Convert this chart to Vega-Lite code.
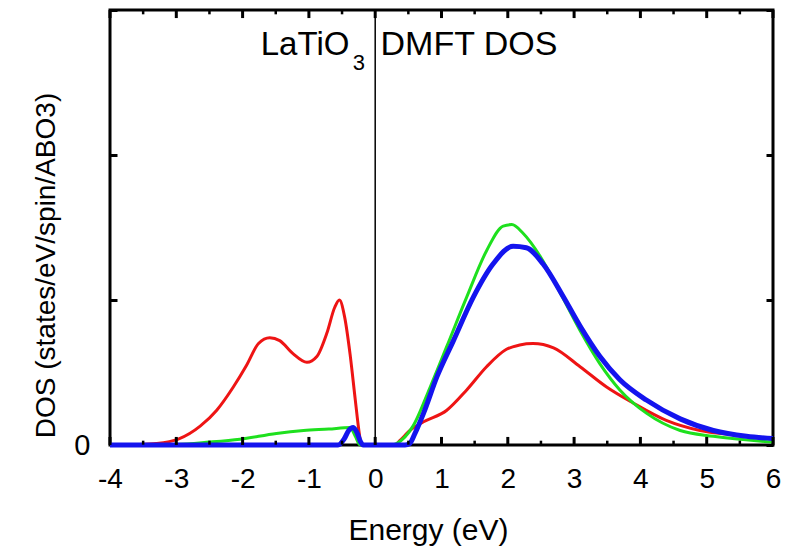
{
  "$schema": "https://vega.github.io/schema/vega-lite/v6.json",
  "width": 663,
  "height": 435,
  "autosize": {"type": "none"},
  "padding": {"left": 110, "top": 10, "right": 15, "bottom": 105},
  "background": "white",
  "config": {
    "view": {"stroke": "black", "strokeWidth": 3},
    "axis": {
      "domain": false,
      "grid": false,
      "zindex": 1,
      "tickColor": "black",
      "labelColor": "black",
      "titleColor": "black",
      "labelFont": "Liberation Sans",
      "titleFont": "Liberation Sans",
      "titleFontWeight": "normal"
    }
  },
  "datasets": {
    "xticks": [
      {"E": -4, "kind": "major"}, {"E": -3, "kind": "major"}, {"E": -2, "kind": "major"},
      {"E": -1, "kind": "major"}, {"E": 0, "kind": "major"}, {"E": 1, "kind": "major"},
      {"E": 2, "kind": "major"}, {"E": 3, "kind": "major"}, {"E": 4, "kind": "major"},
      {"E": 5, "kind": "major"}, {"E": 6, "kind": "major"},
      {"E": -3.5, "kind": "minor"}, {"E": -2.5, "kind": "minor"}, {"E": -1.5, "kind": "minor"},
      {"E": -0.5, "kind": "minor"}, {"E": 0.5, "kind": "minor"}, {"E": 1.5, "kind": "minor"},
      {"E": 2.5, "kind": "minor"}, {"E": 3.5, "kind": "minor"}, {"E": 4.5, "kind": "minor"},
      {"E": 5.5, "kind": "minor"}
    ],
    "dos": [
      {"orbital": "1", "E": -4.0, "dos": 0.0},
      {"orbital": "1", "E": -3.6, "dos": 0.003},
      {"orbital": "1", "E": -3.3, "dos": 0.01},
      {"orbital": "1", "E": -2.97, "dos": 0.04},
      {"orbital": "1", "E": -2.64, "dos": 0.13},
      {"orbital": "1", "E": -2.39, "dos": 0.24},
      {"orbital": "1", "E": -2.14, "dos": 0.4},
      {"orbital": "1", "E": -1.94, "dos": 0.55},
      {"orbital": "1", "E": -1.76, "dos": 0.7},
      {"orbital": "1", "E": -1.59, "dos": 0.74},
      {"orbital": "1", "E": -1.44, "dos": 0.72},
      {"orbital": "1", "E": -1.24, "dos": 0.63},
      {"orbital": "1", "E": -1.03, "dos": 0.57},
      {"orbital": "1", "E": -0.88, "dos": 0.61},
      {"orbital": "1", "E": -0.73, "dos": 0.77},
      {"orbital": "1", "E": -0.61, "dos": 0.95},
      {"orbital": "1", "E": -0.54, "dos": 1.0},
      {"orbital": "1", "E": -0.46, "dos": 0.88},
      {"orbital": "1", "E": -0.38, "dos": 0.63},
      {"orbital": "1", "E": -0.3, "dos": 0.31},
      {"orbital": "1", "E": -0.24, "dos": 0.08},
      {"orbital": "1", "E": -0.21, "dos": 0.0},
      {"orbital": "1", "E": 0.3, "dos": 0.0},
      {"orbital": "1", "E": 0.37, "dos": 0.03},
      {"orbital": "1", "E": 0.55, "dos": 0.11},
      {"orbital": "1", "E": 0.73, "dos": 0.16},
      {"orbital": "1", "E": 1.08, "dos": 0.24},
      {"orbital": "1", "E": 1.38, "dos": 0.38},
      {"orbital": "1", "E": 1.68, "dos": 0.54},
      {"orbital": "1", "E": 1.98, "dos": 0.66},
      {"orbital": "1", "E": 2.18, "dos": 0.69},
      {"orbital": "1", "E": 2.38, "dos": 0.7},
      {"orbital": "1", "E": 2.69, "dos": 0.67},
      {"orbital": "1", "E": 3.09, "dos": 0.54},
      {"orbital": "1", "E": 3.49, "dos": 0.4},
      {"orbital": "1", "E": 3.89, "dos": 0.29},
      {"orbital": "1", "E": 4.39, "dos": 0.17},
      {"orbital": "1", "E": 4.9, "dos": 0.1},
      {"orbital": "1", "E": 5.4, "dos": 0.07},
      {"orbital": "1", "E": 6.0, "dos": 0.04},

      {"orbital": "2", "E": -4.0, "dos": 0.0},
      {"orbital": "2", "E": -3.0, "dos": 0.004},
      {"orbital": "2", "E": -2.5, "dos": 0.02},
      {"orbital": "2", "E": -2.04, "dos": 0.04},
      {"orbital": "2", "E": -1.49, "dos": 0.08},
      {"orbital": "2", "E": -1.08, "dos": 0.1},
      {"orbital": "2", "E": -0.7, "dos": 0.11},
      {"orbital": "2", "E": -0.38, "dos": 0.12},
      {"orbital": "2", "E": -0.3, "dos": 0.06},
      {"orbital": "2", "E": -0.23, "dos": 0.0},
      {"orbital": "2", "E": 0.25, "dos": 0.0},
      {"orbital": "2", "E": 0.32, "dos": 0.01},
      {"orbital": "2", "E": 0.57, "dos": 0.13},
      {"orbital": "2", "E": 0.83, "dos": 0.4},
      {"orbital": "2", "E": 1.08, "dos": 0.68},
      {"orbital": "2", "E": 1.38, "dos": 1.02},
      {"orbital": "2", "E": 1.68, "dos": 1.34},
      {"orbital": "2", "E": 1.93, "dos": 1.51},
      {"orbital": "2", "E": 2.06, "dos": 1.52},
      {"orbital": "2", "E": 2.23, "dos": 1.46},
      {"orbital": "2", "E": 2.49, "dos": 1.3},
      {"orbital": "2", "E": 2.79, "dos": 1.05},
      {"orbital": "2", "E": 3.09, "dos": 0.79},
      {"orbital": "2", "E": 3.39, "dos": 0.56},
      {"orbital": "2", "E": 3.69, "dos": 0.38},
      {"orbital": "2", "E": 4.09, "dos": 0.22},
      {"orbital": "2", "E": 4.6, "dos": 0.1},
      {"orbital": "2", "E": 5.1, "dos": 0.06},
      {"orbital": "2", "E": 6.0, "dos": 0.02},

      {"orbital": "3", "E": -4.0, "dos": 0.0},
      {"orbital": "3", "E": -0.56, "dos": 0.0},
      {"orbital": "3", "E": -0.47, "dos": 0.04},
      {"orbital": "3", "E": -0.4, "dos": 0.1},
      {"orbital": "3", "E": -0.33, "dos": 0.12},
      {"orbital": "3", "E": -0.27, "dos": 0.08},
      {"orbital": "3", "E": -0.22, "dos": 0.02},
      {"orbital": "3", "E": -0.18, "dos": 0.0},
      {"orbital": "3", "E": 0.45, "dos": 0.0},
      {"orbital": "3", "E": 0.52, "dos": 0.01},
      {"orbital": "3", "E": 0.6, "dos": 0.08},
      {"orbital": "3", "E": 0.73, "dos": 0.22},
      {"orbital": "3", "E": 0.93, "dos": 0.47},
      {"orbital": "3", "E": 1.18, "dos": 0.72},
      {"orbital": "3", "E": 1.48, "dos": 1.02},
      {"orbital": "3", "E": 1.78, "dos": 1.25},
      {"orbital": "3", "E": 2.08, "dos": 1.37},
      {"orbital": "3", "E": 2.28, "dos": 1.36},
      {"orbital": "3", "E": 2.53, "dos": 1.25},
      {"orbital": "3", "E": 2.84, "dos": 1.02},
      {"orbital": "3", "E": 3.09, "dos": 0.82},
      {"orbital": "3", "E": 3.39, "dos": 0.61},
      {"orbital": "3", "E": 3.69, "dos": 0.45},
      {"orbital": "3", "E": 4.09, "dos": 0.31},
      {"orbital": "3", "E": 4.6, "dos": 0.18},
      {"orbital": "3", "E": 5.1, "dos": 0.1},
      {"orbital": "3", "E": 5.6, "dos": 0.06},
      {"orbital": "3", "E": 6.0, "dos": 0.045}
    ]
  },
  "resolve": {"axis": {"x": "independent", "y": "independent"}},
  "layer": [
    {
      "data": {"values": [{"E": 0}]},
      "mark": {"type": "rule", "color": "black", "strokeWidth": 1.5},
      "encoding": {
        "x": {
          "field": "E",
          "type": "quantitative",
          "scale": {"domain": [-4, 6], "nice": false, "zero": false},
          "axis": {
            "orient": "bottom",
            "values": [-4, -3, -2, -1, 0, 1, 2, 3, 4, 5, 6],
            "tickSize": -9,
            "tickOpacity": 0,
            "labelExpr": "replace(datum.label, '\u2212', '-')",
            "labelFontSize": 28,
            "labelPadding": 29,
            "labelFlush": false,
            "title": "Energy (eV)",
            "titleFontSize": 30,
            "titleAnchor": "start",
            "titleAlign": "center",
            "titleX": 318,
            "titleY": 94,
            "titleBaseline": "alphabetic"
          }
        }
      }
    },
    {
      "data": {"name": "dos"},
      "transform": [{"filter": "datum.orbital === '1'"}],
      "mark": {"type": "line", "color": "#ee1414", "strokeWidth": 3, "strokeJoin": "round", "interpolate": "monotone"},
      "encoding": {
        "x": {"field": "E", "type": "quantitative", "axis": null},
        "y": {
          "field": "dos",
          "type": "quantitative",
          "scale": {"domain": [0, 3], "nice": false, "zero": false},
          "axis": {
            "orient": "left",
            "values": [0, 1, 2, 3],
            "tickSize": -7,
            "tickWidth": 3,
            "labelExpr": "datum.value === 0 ? '0' : ''",
            "labelFontSize": 29,
            "labelPadding": 27,
            "labelBaseline": "middle",
            "title": "DOS (states/eV/spin/ABO3)",
            "titleFontSize": 28,
            "titleAngle": -90,
            "titleAnchor": "start",
            "titleAlign": "center",
            "titleBaseline": "alphabetic",
            "titleX": -56,
            "titleY": 255
          }
        }
      }
    },
    {
      "data": {"name": "dos"},
      "transform": [{"filter": "datum.orbital === '2'"}],
      "mark": {"type": "line", "color": "#1ee01e", "strokeWidth": 3, "strokeJoin": "round", "interpolate": "monotone"},
      "encoding": {
        "x": {"field": "E", "type": "quantitative", "axis": null},
        "y": {
          "field": "dos",
          "type": "quantitative",
          "axis": {
            "orient": "right",
            "values": [0, 1, 2, 3],
            "tickSize": -7,
            "tickWidth": 3,
            "labels": false,
            "title": null
          }
        }
      }
    },
    {
      "data": {"name": "dos"},
      "transform": [{"filter": "datum.orbital === '3'"}],
      "mark": {"type": "line", "color": "#1414ee", "strokeWidth": 5, "strokeJoin": "round", "interpolate": "monotone"},
      "encoding": {
        "x": {"field": "E", "type": "quantitative", "axis": null},
        "y": {"field": "dos", "type": "quantitative", "axis": null}
      }
    },
    {
      "data": {"name": "xticks"},
      "transform": [{"filter": "datum.kind === 'major'"}],
      "mark": {"type": "tick", "orient": "vertical", "color": "black", "opacity": 1, "thickness": 3, "size": 8},
      "encoding": {
        "x": {"field": "E", "type": "quantitative", "axis": null},
        "y": {"datum": 0.028, "type": "quantitative", "axis": null}
      }
    },
    {
      "data": {"name": "xticks"},
      "transform": [{"filter": "datum.kind === 'major'"}],
      "mark": {"type": "tick", "orient": "vertical", "color": "black", "opacity": 1, "thickness": 3, "size": 8},
      "encoding": {
        "x": {"field": "E", "type": "quantitative", "axis": null},
        "y": {"datum": 2.972, "type": "quantitative", "axis": null}
      }
    },
    {
      "data": {"name": "xticks"},
      "transform": [{"filter": "datum.kind === 'minor'"}],
      "mark": {"type": "tick", "orient": "vertical", "color": "black", "opacity": 1, "thickness": 2.5, "size": 4},
      "encoding": {
        "x": {"field": "E", "type": "quantitative", "axis": null},
        "y": {"datum": 0.016, "type": "quantitative", "axis": null}
      }
    },
    {
      "data": {"name": "xticks"},
      "transform": [{"filter": "datum.kind === 'minor'"}],
      "mark": {"type": "tick", "orient": "vertical", "color": "black", "opacity": 1, "thickness": 2.5, "size": 4},
      "encoding": {
        "x": {"field": "E", "type": "quantitative", "axis": null},
        "y": {"datum": 2.984, "type": "quantitative", "axis": null}
      }
    },
    {
      "data": {"values": [{"E": -1.726, "dos": 2.69, "txt": "LaTiO"}]},
      "mark": {"type": "text", "align": "left", "baseline": "alphabetic", "font": "Liberation Sans", "fontSize": 33, "color": "black"},
      "encoding": {
        "x": {"field": "E", "type": "quantitative", "axis": null},
        "y": {"field": "dos", "type": "quantitative", "axis": null},
        "text": {"field": "txt"}
      }
    },
    {
      "data": {"values": [{"E": -0.34, "dos": 2.586, "txt": "3"}]},
      "mark": {"type": "text", "align": "left", "baseline": "alphabetic", "font": "Liberation Sans", "fontSize": 22, "color": "black"},
      "encoding": {
        "x": {"field": "E", "type": "quantitative", "axis": null},
        "y": {"field": "dos", "type": "quantitative", "axis": null},
        "text": {"field": "txt"}
      }
    },
    {
      "data": {"values": [{"E": 0.08, "dos": 2.69, "txt": "DMFT DOS"}]},
      "mark": {"type": "text", "align": "left", "baseline": "alphabetic", "font": "Liberation Sans", "fontSize": 34, "color": "black"},
      "encoding": {
        "x": {"field": "E", "type": "quantitative", "axis": null},
        "y": {"field": "dos", "type": "quantitative", "axis": null},
        "text": {"field": "txt"}
      }
    }
  ]
}
